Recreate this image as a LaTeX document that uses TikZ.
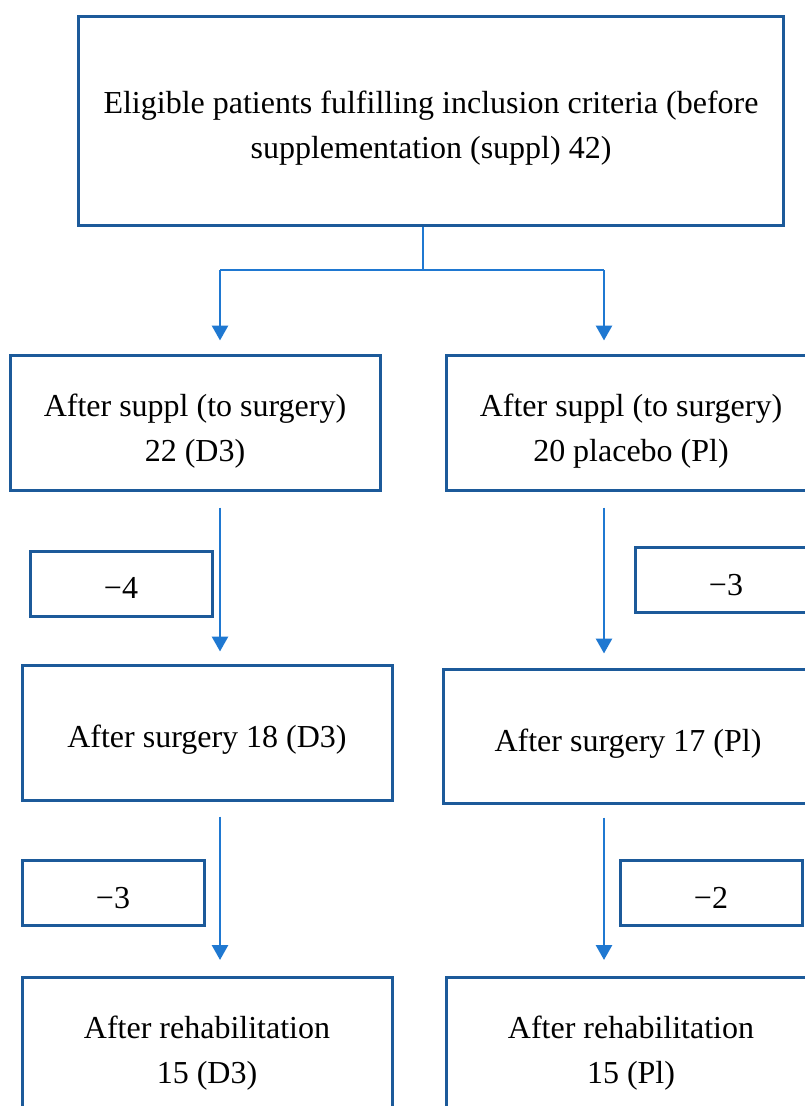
\documentclass[tikz,border=0pt]{standalone}
\usepackage{fontspec}
\setmainfont{Liberation Serif}
\usetikzlibrary{arrows.meta}
\definecolor{boxblue}{RGB}{28,90,154}
\definecolor{arrowblue}{RGB}{31,120,209}

\begin{document}
\begin{tikzpicture}[x=1pt,y=-1pt]

  \useasboundingbox (0,0) rectangle (805,1106);
  \clip (0,0) rectangle (805,1106);

  % node styles
  \tikzstyle{Box}=[
  draw=boxblue,
  line width=3pt,
  shape=rectangle,
  align=center,
  inner sep=0pt,
  minimum width=370pt,
  minimum height=135pt,
  text height=77pt,
  text depth=0pt,
  font=\fontsize{32}{45}\selectfont]

  \tikzstyle{One}=[Box,text height=30pt]
  \tikzstyle{Loss}=[One,minimum width=182pt,minimum height=65pt]

  \tikzstyle{Flow}=[draw=arrowblue,line width=2.8pt,-{Triangle[width=16pt,length=15pt]}]

  \node[Box,minimum width=705pt,minimum height=209pt,text height=74pt] (E) at (431,121)
    {Eligible patients fulfilling inclusion criteria (before\\supplementation (suppl) 42)};

  % D3 branch
  \node[Box] (A1) at (195,422.5) {After suppl (to surgery)\\22 (D3)};
  \node[Loss] (L1) at (121,583.5) {−4};
  \node[One] (A2) at (207,732.5) {After surgery 18 (D3)};
  \node[Loss] (L2) at (113,893) {−3};
  \node[Box] (A3) at (207,1045) {After rehabilitation\\15 (D3)};

  % placebo branch
  \node[Box] (P1) at (631,422.5) {After suppl (to surgery)\\20 placebo (Pl)};
  \node[Loss] (M1) at (726,580) {−3};
  \node[One,minimum height=134pt] (P2) at (628,736) {After surgery 17 (Pl)};
  \node[Loss] (M2) at (711,893) {−2};
  \node[Box] (P3) at (631,1045) {After rehabilitation\\15 (Pl)};

  \coordinate (S)  at (423,270);
  \coordinate (SL) at (220,270);
  \coordinate (SR) at (604,270);

  \draw[Flow,-] (E.south -| S) -- (S);
  \draw[Flow,-] (SL) -- (SR);
  \draw[Flow,shorten >=13pt] (SL) -- (SL |- A1.north);
  \draw[Flow,shorten >=13pt] (SR) -- (SR |- P1.north);

  \draw[Flow,shorten <=16pt,shorten >=12pt] (SL |- A1.south) -- (SL |- A2.north);
  \draw[Flow,shorten <=16pt,shorten >=14pt] (SR |- P1.south) -- (SR |- P2.north);
  \draw[Flow,shorten <=15pt,shorten >=16pt] (SL |- A2.south) -- (SL |- A3.north);
  \draw[Flow,shorten <=13pt,shorten >=16pt] (SR |- P2.south) -- (SR |- P3.north);

\end{tikzpicture}
\end{document}
